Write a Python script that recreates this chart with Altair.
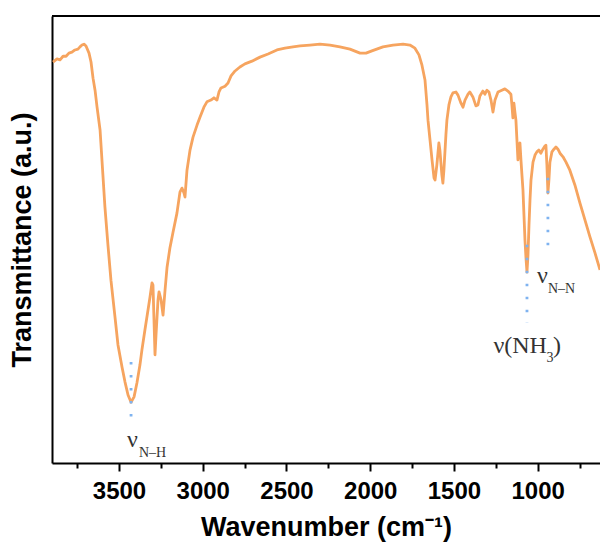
import altair as alt
import pandas as pd

# FTIR spectrum (wavenumber in cm^-1, transmittance in a.u.)
wavenumber = [3894,3870,3852,3834,3816,3799,3781,3763,3745,3733,3721,3709,3697,3679,3667,3655,3643,3631,3613,3596,
              3584,3566,3548,3524,3506,3482,3464,3446,3428,3410,3393,3375,3363,3345,3333,3315,3303,3297,3291,3285,
              3279,3267,3261,3249,3237,3225,3213,3196,3178,3154,3136,3124,3112,3106,3094,3076,3058,3034,3016,2993,
              2975,2951,2933,2915,2903,2891,2867,2849,2831,2807,2778,2748,2706,2658,2610,2557,2509,2461,2419,2360,
              2300,2240,2181,2121,2061,2025,1990,1924,1864,1804,1763,1733,1709,1691,1673,1661,1655,1643,1631,1619,
              1613,1602,1590,1584,1572,1566,1560,1548,1542,1530,1518,1506,1488,1476,1458,1446,1434,1416,1405,1387,
              1369,1357,1345,1327,1315,1303,1291,1279,1267,1255,1237,1214,1196,1178,1160,1154,1148,1142,1136,1130,
              1124,1118,1112,1106,1100,1094,1088,1082,1076,1070,1064,1058,1052,1046,1040,1028,1016,1005,993,981,
              969,957,951,945,939,933,927,915,903,891,879,867,849,831,808,778,748,718,688,658,628]
transmittance = [89.7,90.4,90.2,91.0,91.0,91.7,91.9,92.4,92.6,93.1,93.5,93.7,93.3,91.7,89.7,86.1,83.4,79.6,74.5,64.4,
                 57.3,48.8,40.9,32.7,26.4,21.5,18.1,15.2,13.6,14.8,17.9,21.9,25.3,29.8,32.7,37.1,40.3,39.8,32.0,24.2,
                 28.6,36.5,38.3,36.5,33.1,38.7,43.8,48.1,51.5,55.9,60.6,61.5,60.4,59.5,65.5,70.0,72.9,75.6,77.4,79.6,
                 80.8,81.2,81.7,81.2,83.0,83.9,84.3,85.0,86.6,87.7,88.6,89.3,89.9,90.8,91.5,92.4,92.8,93.1,93.3,93.5,
                 93.7,93.5,93.1,92.6,91.7,91.7,92.2,93.1,93.5,93.7,93.5,92.8,91.3,89.0,85.7,80.1,76.7,72.3,67.8,63.8,
                 63.3,66.7,71.6,70.0,64.4,62.6,65.5,73.4,76.7,80.1,81.9,82.8,83.0,82.3,80.5,79.6,81.2,82.5,83.0,81.9,
                 79.9,80.1,82.1,83.2,82.5,83.4,83.0,81.2,78.5,81.2,83.0,83.4,83.7,83.2,82.5,80.1,77.2,80.5,78.5,76.7,
                 72.3,67.8,71.1,71.6,67.8,64.4,61.1,55.5,49.9,45.9,42.7,46.5,53.2,58.8,63.3,67.3,68.9,69.6,70.0,69.3,
                 70.2,70.9,71.1,66.7,60.4,63.3,67.3,69.6,70.2,70.7,70.2,69.3,68.5,67.3,65.5,62.2,58.2,54.4,50.6,47.0,43.2]
assert len(wavenumber) == len(transmittance), (len(wavenumber), len(transmittance))

major_ticks = [3500, 3000, 2500, 2000, 1500, 1000]
minor_ticks = [3750, 3250, 2750, 2250, 1750, 1250, 750]

# peak markers (dotted guide lines)
peak_x = [3428, 1064, 939]
peak_y1 = [22.6, 48.8, 63.8]
peak_y2 = [8.1, 31.3, 46.5]

# annotation texts
main_left_text = ["ν", ")", "ν"]
main_left_x = [3452, 909, 1004]
main_left_y = [3.6, 24.6, 40.3]
main_right_text = ["ν(NH"]
main_right_x = [945]
main_right_y = [24.6]
sub_text = ["N–H", "3", "N–N"]
sub_x = [3381, 947, 939]
sub_y = [1.3, 22.6, 38.0]

W, H = 548, 447
XDOM = [3900, 628]
xscale = alt.Scale(domain=XDOM, nice=False, zero=False)
yscale = alt.Scale(domain=[0, 100], nice=False, zero=False)

spec_df = pd.DataFrame({"wn": wavenumber, "t": transmittance})
peaks_df = pd.DataFrame({"x": peak_x, "y1": peak_y1, "y2": peak_y2})
ml_df = pd.DataFrame({"label": main_left_text, "x": main_left_x, "y": main_left_y})
mr_df = pd.DataFrame({"label": main_right_text, "x": main_right_x, "y": main_right_y})
sub_df = pd.DataFrame({"label": sub_text, "x": sub_x, "y": sub_y})
minor_df = pd.DataFrame({"v": minor_ticks})

major_axis = alt.Axis(
    values=major_ticks, orient="bottom", format="d", grid=False,
    domainColor="black", domainWidth=2, tickColor="black", tickWidth=2, tickSize=8,
    labelFont="Liberation Sans", labelFontSize=24, labelFontWeight="bold", labelColor="black",
    labelPadding=8, labelFlush=False, labelOverlap=False,
    title="Wavenumber (cm⁻¹)", titleFont="Liberation Sans", titleFontSize=27,
    titleFontWeight="bold", titleColor="black", titlePadding=11,
)
minor_axis = alt.Axis(
    values=minor_ticks, orient="bottom", grid=False, labels=False, domain=False,
    tickColor="black", tickWidth=2, tickSize=5, title="",
)
y_axis = alt.Axis(
    labels=False, ticks=False, grid=False, domainColor="black", domainWidth=2,
    title="Transmittance (a.u.)", titleFont="Liberation Sans", titleFontSize=27,
    titleFontWeight="bold", titleColor="black", titlePadding=16,
)

line = alt.Chart(spec_df).mark_line(
    color="#F6A45F", strokeWidth=2.8, clip=True, strokeJoin="round"
).encode(
    x=alt.X("wn:Q", scale=xscale, axis=major_axis),
    y=alt.Y("t:Q", scale=yscale, axis=y_axis),
    order=alt.Order("wn:Q", sort="descending"),
)

minor = alt.Chart(minor_df).mark_point(opacity=0).encode(
    x=alt.X("v:Q", scale=xscale, axis=minor_axis),
)

guides = alt.Chart(peaks_df).mark_rule(
    color="#7FB3F0", strokeWidth=2.8, strokeDash=[2.4, 10.6]
).encode(
    x=alt.X("x:Q", scale=xscale, axis=None),
    y=alt.Y("y1:Q", scale=yscale, axis=y_axis),
    y2="y2:Q",
)

txt_left = alt.Chart(ml_df).mark_text(
    font="Liberation Serif", fontSize=24, color="#333333", align="left", baseline="alphabetic"
).encode(x=alt.X("x:Q", scale=xscale, axis=None), y=alt.Y("y:Q", scale=yscale, axis=y_axis), text="label:N")

txt_right = alt.Chart(mr_df).mark_text(
    font="Liberation Serif", fontSize=24, color="#333333", align="right", baseline="alphabetic"
).encode(x=alt.X("x:Q", scale=xscale, axis=None), y=alt.Y("y:Q", scale=yscale, axis=y_axis), text="label:N")

txt_sub = alt.Chart(sub_df).mark_text(
    font="Liberation Serif", fontSize=14, color="#333333", align="left", baseline="alphabetic"
).encode(x=alt.X("x:Q", scale=xscale, axis=None), y=alt.Y("y:Q", scale=yscale, axis=y_axis), text="label:N")

top_border = alt.Chart(minor_df).mark_rule(color="black", strokeWidth=2).encode(
    x=alt.value(0), x2=alt.value(W), y=alt.value(0)
)

chart = alt.layer(
    line, minor, guides, txt_left, txt_right, txt_sub, top_border
).resolve_axis(x="independent").properties(
    width=W, height=H,
    padding={"left": 52, "top": 16, "right": 0, "bottom": 82},
    autosize=alt.AutoSizeParams(type="none"),
    background="white",
).configure_view(stroke=None)

chart.save("out.html", embed_options={"renderer": "svg", "actions": False})
